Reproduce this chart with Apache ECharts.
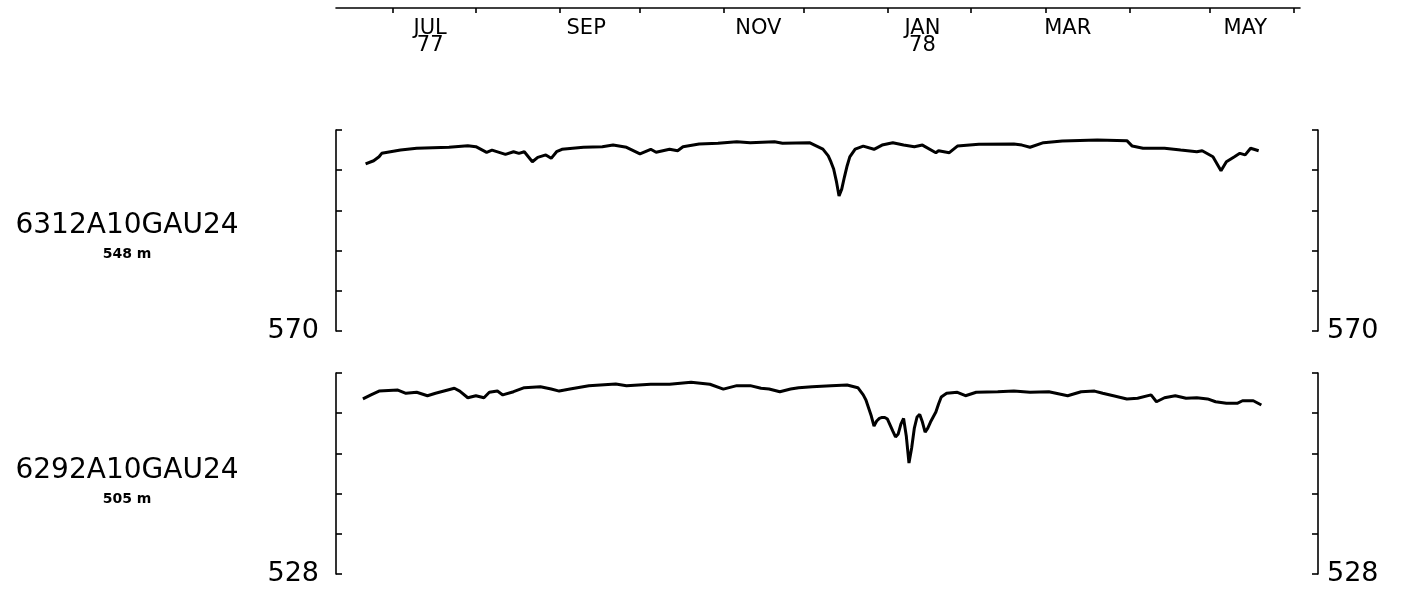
<!DOCTYPE html>
<html>
<head>
<meta charset="utf-8">
<script src="https://cdn.jsdelivr.net/npm/echarts@6/dist/echarts.min.js"></script>
<style>
html,body{margin:0;padding:0;background:#fff;}
#chart{width:1402px;height:595px;}
</style>
</head>
<body>
<div id="chart"></div>
<script>
// ---------- data ----------
const monthTicks = ['1977-07-01','1977-08-01','1977-09-01','1977-10-01','1977-11-01','1977-12-01',
  '1978-01-01','1978-02-01','1978-03-01','1978-04-01','1978-05-01','1978-06-01'];
const monthLabelDates = ['1977-07-15','1977-09-11','1977-11-14','1978-01-14','1978-03-09','1978-05-14'];
const monthLabels = ['JUL\n77','SEP','NOV','JAN\n78','MAR','MAY'];

const stations = ['6312A10GAU24','6292A10GAU24'];
const elevations = ['548 m','505 m'];

const topRange = [570, 580];
const botRange = [528, 538];
const yStep = 2;

const topDates = ['1977-06-21','1977-06-24','1977-06-26','1977-06-27','1977-07-04','1977-07-10','1977-07-22','1977-07-29',
  '1977-08-01','1977-08-05','1977-08-07','1977-08-12','1977-08-15','1977-08-17','1977-08-19','1977-08-22','1977-08-24',
  '1977-08-27','1977-08-29','1977-08-31','1977-09-02','1977-09-10','1977-09-17','1977-09-21','1977-09-26','1977-10-01',
  '1977-10-05','1977-10-07','1977-10-12','1977-10-15','1977-10-17','1977-10-23','1977-10-30','1977-11-06','1977-11-11',
  '1977-11-20','1977-11-23','1977-12-03','1977-12-08','1977-12-10','1977-12-11','1977-12-12','1977-12-13','1977-12-14',
  '1977-12-15','1977-12-16','1977-12-17','1977-12-18','1977-12-20','1977-12-23','1977-12-27','1977-12-30','1978-01-03',
  '1978-01-07','1978-01-11','1978-01-14','1978-01-19','1978-01-20','1978-01-24','1978-01-27','1978-02-04','1978-02-17',
  '1978-02-20','1978-02-23','1978-02-28','1978-03-07','1978-03-20','1978-03-31','1978-04-02','1978-04-06','1978-04-14',
  '1978-04-20','1978-04-26','1978-04-28','1978-05-02','1978-05-05','1978-05-07','1978-05-10','1978-05-12','1978-05-14',
  '1978-05-16','1978-05-19'];
const topValues = [578.31,578.47,578.67,578.84,579.00,579.09,579.14,579.22,
  579.17,578.89,579.00,578.79,578.92,578.84,578.92,578.42,578.64,
  578.76,578.59,578.92,579.04,579.14,579.17,579.25,579.14,578.81,
  579.04,578.89,579.04,578.97,579.17,579.30,579.34,579.42,579.37,
  579.42,579.34,579.37,579.05,578.71,578.41,578.06,577.46,576.72,
  577.06,577.66,578.21,578.66,579.05,579.20,579.04,579.25,579.37,
  579.25,579.17,579.25,578.87,578.97,578.87,579.20,579.29,579.30,
  579.25,579.14,579.37,579.45,579.50,579.47,579.20,579.09,579.09,
  579.00,578.92,578.97,578.67,577.97,578.42,578.67,578.84,578.76,
  579.09,578.97];

const botDates = ['1977-06-20','1977-06-23','1977-06-26','1977-07-03','1977-07-06','1977-07-10','1977-07-14','1977-07-17',
  '1977-07-24','1977-07-26','1977-07-29','1977-08-01','1977-08-04','1977-08-06','1977-08-09','1977-08-11','1977-08-15',
  '1977-08-19','1977-08-25','1977-08-29','1977-09-01','1977-09-05','1977-09-12','1977-09-22','1977-09-26','1977-10-05',
  '1977-10-12','1977-10-20','1977-10-27','1977-11-01','1977-11-06','1977-11-11','1977-11-15','1977-11-18','1977-11-22',
  '1977-11-26','1977-11-29','1977-12-04','1977-12-11','1977-12-17','1977-12-21','1977-12-23','1977-12-24','1977-12-25',
  '1977-12-26','1977-12-27','1977-12-28','1977-12-29','1977-12-30','1977-12-31','1978-01-01','1978-01-02','1978-01-03',
  '1978-01-04','1978-01-05','1978-01-06','1978-01-07','1978-01-08','1978-01-09','1978-01-10','1978-01-11','1978-01-12',
  '1978-01-13','1978-01-14','1978-01-15','1978-01-16','1978-01-17','1978-01-18','1978-01-19','1978-01-20','1978-01-21',
  '1978-01-23','1978-01-27','1978-01-30','1978-02-03','1978-02-11','1978-02-17','1978-02-23','1978-03-02','1978-03-09',
  '1978-03-14','1978-03-19','1978-03-22','1978-03-26','1978-03-31','1978-04-04','1978-04-09','1978-04-11','1978-04-14',
  '1978-04-18','1978-04-22','1978-04-26','1978-04-30','1978-05-03','1978-05-07','1978-05-11','1978-05-13','1978-05-17',
  '1978-05-20'];
const botValues = [536.71,536.91,537.10,537.15,536.99,537.04,536.87,536.99,
  537.24,537.10,536.77,536.87,536.77,537.04,537.10,536.91,537.07,
  537.27,537.32,537.20,537.10,537.20,537.37,537.45,537.37,537.44,
  537.44,537.54,537.44,537.20,537.37,537.37,537.24,537.20,537.07,
  537.20,537.27,537.32,537.37,537.40,537.27,536.91,536.66,536.26,
  535.86,535.36,535.61,535.74,535.79,535.79,535.71,535.41,535.11,
  534.82,534.97,535.46,535.74,534.87,533.52,534.27,535.26,535.81,
  535.94,535.56,535.06,535.26,535.56,535.81,536.06,536.46,536.81,
  536.99,537.04,536.87,537.04,537.07,537.10,537.04,537.07,536.87,
  537.07,537.10,536.99,536.87,536.71,536.74,536.91,536.57,536.77,
  536.87,536.74,536.77,536.71,536.57,536.49,536.49,536.62,536.62,
  536.41];

// ---------- helpers ----------
function ts(s){ const p = s.split('-').map(Number); return Date.UTC(p[0], p[1]-1, p[2]); }
const DAY = 86400000;
const T0 = ts('1977-06-10');
const PX_PER_DAY = 2.69;
const FONT = 'DejaVu Sans';

const tickTs = monthTicks.map(ts);
const labelTs = monthLabelDates.map(ts);

function yAxisDef(gridIndex, range, side) {
  return {
    type: 'value', gridIndex: gridIndex, position: side,
    min: range[0], max: range[1], interval: yStep,
    axisLine: {show: true, onZero: false, lineStyle: {color: '#000', width: 1.6}},
    axisTick: {show: true, inside: true, length: 6, lineStyle: {color: '#000', width: 1.6}},
    splitLine: {show: false},
    axisLabel: {
      show: true, margin: side === 'left' ? 17 : 9,
      fontFamily: FONT, fontSize: 27, color: '#000',
      formatter: function (v) { return v === range[0] ? String(v) : ''; }
    }
  };
}

const chart = echarts.init(document.getElementById('chart'), null, {renderer: 'canvas'});
const option = {
  backgroundColor: '#fff',
  animation: false,
  title: [
    {text: stations[0], subtext: elevations[0], left: 127, top: 212, textAlign: 'center', padding: 0, itemGap: 7,
     textStyle: {fontFamily: FONT, fontSize: 28, fontWeight: 'normal', color: '#000'},
     subtextStyle: {fontFamily: FONT, fontSize: 14, fontWeight: 'bold', color: '#000'}},
    {text: stations[1], subtext: elevations[1], left: 127, top: 457, textAlign: 'center', padding: 0, itemGap: 7,
     textStyle: {fontFamily: FONT, fontSize: 28, fontWeight: 'normal', color: '#000'},
     subtextStyle: {fontFamily: FONT, fontSize: 14, fontWeight: 'bold', color: '#000'}}
  ],
  grid: [
    {left: 336, top: 8, width: 964, height: 1},
    {left: 336, top: 130, width: 982, height: 201},
    {left: 336, top: 373, width: 982, height: 201}
  ],
  xAxis: [
    {
      type: 'value', gridIndex: 0, position: 'top',
      min: T0, max: T0 + 964 / PX_PER_DAY * DAY,
      axisLine: {show: true, onZero: false, lineStyle: {color: '#000', width: 1.6}},
      axisTick: {show: true, inside: true, length: 5, customValues: tickTs, lineStyle: {color: '#000', width: 1.6}},
      splitLine: {show: false},
      axisLabel: {
        show: true, inside: true, margin: 12, customValues: labelTs,
        fontFamily: FONT, fontSize: 21, lineHeight: 17, color: '#000', align: 'center',
        hideOverlap: false, showMinLabel: true, showMaxLabel: true,
        formatter: function (v) {
          const i = labelTs.indexOf(v);
          return i >= 0 ? monthLabels[i] : '';
        }
      }
    },
    {type: 'value', gridIndex: 1, min: T0, max: T0 + 982 / PX_PER_DAY * DAY, show: false},
    {type: 'value', gridIndex: 2, min: T0, max: T0 + 982 / PX_PER_DAY * DAY, show: false}
  ],
  yAxis: [
    {type: 'value', gridIndex: 0, show: false, min: 0, max: 1},
    yAxisDef(1, topRange, 'left'),
    yAxisDef(1, topRange, 'right'),
    yAxisDef(2, botRange, 'left'),
    yAxisDef(2, botRange, 'right')
  ],
  series: [
    {
      name: stations[0], type: 'line', xAxisIndex: 1, yAxisIndex: 1,
      data: topDates.map((d, i) => [ts(d), topValues[i]]),
      showSymbol: false, smooth: false,
      lineStyle: {color: '#000', width: 3}
    },
    {
      name: stations[1], type: 'line', xAxisIndex: 2, yAxisIndex: 3,
      data: botDates.map((d, i) => [ts(d), botValues[i]]),
      showSymbol: false, smooth: false,
      lineStyle: {color: '#000', width: 3}
    }
  ]
};
chart.setOption(option);
</script>
</body>
</html>
